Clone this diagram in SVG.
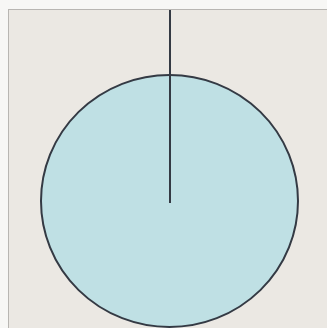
<svg xmlns="http://www.w3.org/2000/svg" width="327" height="328" viewBox="0 0 327 328">
<style>
.bg{fill:#f7f7f5}
.panel{fill:#ebe8e3;stroke:#b8b6b2;stroke-width:1}
.disc{fill:#bfe0e4;stroke:#343a44;stroke-width:2}
.conn{stroke:#343a44;stroke-width:2;fill:none}
</style>
<rect class="bg" x="0" y="0" width="327" height="328"/>
<rect class="panel" x="8.5" y="9.5" width="330" height="330"/>
<g id="circle">
<ellipse class="disc" cx="169.5" cy="201" rx="128.5" ry="126"/>
</g>
<g id="connectors">
<line class="conn" x1="170" y1="10" x2="170" y2="203"/>
</g>
</svg>
